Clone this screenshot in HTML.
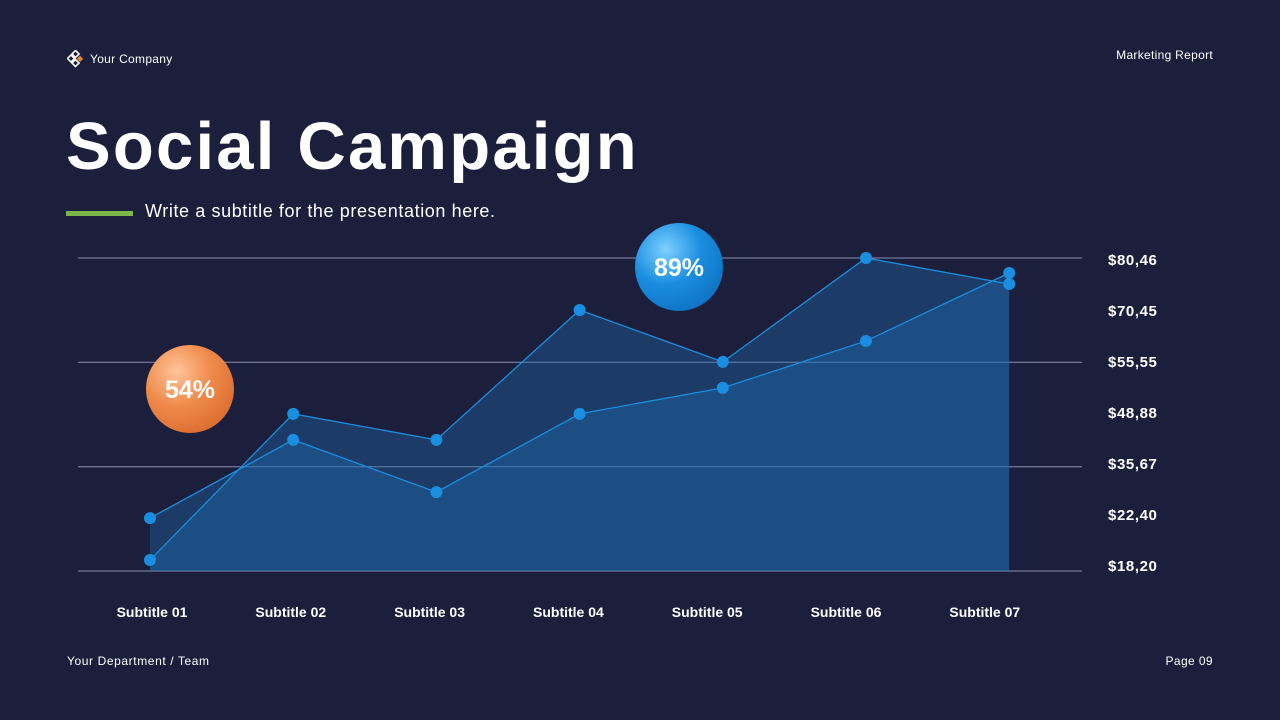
<!DOCTYPE html>
<html><head><meta charset="utf-8"><style>
body{margin:0;width:1280px;height:720px;background:#1c1f3c;font-family:"Liberation Sans",sans-serif;color:#fff;overflow:hidden;position:relative}
.a{position:absolute}
</style></head><body>
<div class="a" style="left:67px;top:50px;display:flex;align-items:center;gap:5px;font-size:12px;letter-spacing:0.3px">
<svg width="18" height="18" viewBox="0 0 18 18"><g fill="none" stroke="#fff" stroke-width="1.6"><rect x="6" y="1.5" width="5" height="5" transform="rotate(45 8.5 4)"/><rect x="1.5" y="6" width="5" height="5" transform="rotate(45 4 8.5)"/><rect x="6" y="10.5" width="5" height="5" transform="rotate(45 8.5 13)"/></g><rect x="11" y="6.5" width="4.5" height="4.5" fill="#e8833a" transform="rotate(45 13 8.5)"/></svg>
<span>Your Company</span></div>
<div class="a" style="right:67px;top:48px;font-size:12px;letter-spacing:0.3px">Marketing Report</div>
<div class="a" style="left:66px;top:108px;font-size:67px;font-weight:bold;letter-spacing:2.2px">Social Campaign</div>
<div class="a" style="left:66px;top:211px;width:67px;height:5px;background:#7ab648"></div>
<div class="a" style="left:145px;top:201px;font-size:18px;letter-spacing:0.6px">Write a subtitle for the presentation here.</div>
<svg class="a" style="left:0;top:0" width="1280" height="720" id="chart">
<defs>
<radialGradient id="go" cx="0.35" cy="0.3" r="0.8"><stop offset="0" stop-color="#ffc49a"/><stop offset="0.5" stop-color="#ef8a4a"/><stop offset="1" stop-color="#d86a2c"/></radialGradient>
<radialGradient id="gb" cx="0.35" cy="0.3" r="0.8"><stop offset="0" stop-color="#7fd0ff"/><stop offset="0.5" stop-color="#1a8ee0"/><stop offset="1" stop-color="#0d6fbf"/></radialGradient>
</defs></svg>
<div class="a" style="left:67px;top:654px;font-size:12px;letter-spacing:0.6px">Your Department / Team</div>
<div class="a" style="right:67px;top:654px;font-size:12px;letter-spacing:0.4px">Page 09</div>
<script>
const categories=["Subtitle 01","Subtitle 02","Subtitle 03","Subtitle 04","Subtitle 05","Subtitle 06","Subtitle 07"];
const seriesA=[3.5,50.2,41.9,83.4,66.8,100,91.7];
const seriesB=[16.9,41.9,25.2,50.2,58.5,73.5,95.2];
const yTicks=["$80,46","$70,45","$55,55","$48,88","$35,67","$22,40","$18,20"];
const gridVals=[0,33.3,66.7,100];
const svg=document.getElementById('chart');const NS='http://www.w3.org/2000/svg';
const x=i=>150+i*143.2, y=v=>571-v*3.13;
function mk(t,a,p){const e=document.createElementNS(NS,t);for(const k in a)e.setAttribute(k,a[k]);(p||svg).appendChild(e);return e;}
gridVals.forEach(v=>{const l=mk('line',{x1:78,x2:1082,y1:y(v),y2:y(v),stroke:'#8a8fae','stroke-width':1});

});
yTicks.forEach((t,i)=>{const e=mk('text',{x:1108,y:265+i*51,fill:'#fff','font-size':15,'font-weight':'bold','letter-spacing':0.6});e.textContent=t;

});
categories.forEach((c,i)=>{const e=mk('text',{x:152+i*138.8,y:617,fill:'#fff','font-size':14,'font-weight':'bold','text-anchor':'middle'});e.textContent=c;

});
[seriesB,seriesA].forEach((s,k)=>{
 let d='M'+x(0)+','+y(0);s.forEach((v,i)=>d+=' L'+x(i)+','+y(v));d+=' L'+x(s.length-1)+','+y(0)+'Z';
 const a=mk('path',{d:d,fill:'#1e6fb8','fill-opacity':0.35});
 
 
});
[seriesA,seriesB].forEach((s,k)=>{
 const pl=mk('polyline',{points:s.map((v,i)=>x(i)+','+y(v)).join(' '),fill:'none',stroke:'#1a8ee0','stroke-width':1.3});
 
 
 s.forEach((v,i)=>{const c=mk('circle',{cx:x(i),cy:y(v),r:6,fill:'#1a8ee0'});
 
 });
});
[[190,389,'url(#go)','54%'],[679,267,'url(#gb)','89%']].forEach(b=>{
 const c=mk('circle',{cx:b[0],cy:b[1],r:44,fill:b[2]});
 
 
 const t=mk('text',{x:b[0],y:b[1]+9,fill:'#fff','font-size':25,'font-weight':'bold','text-anchor':'middle'});t.textContent=b[3];
 
 
});
</script>
</body></html>
